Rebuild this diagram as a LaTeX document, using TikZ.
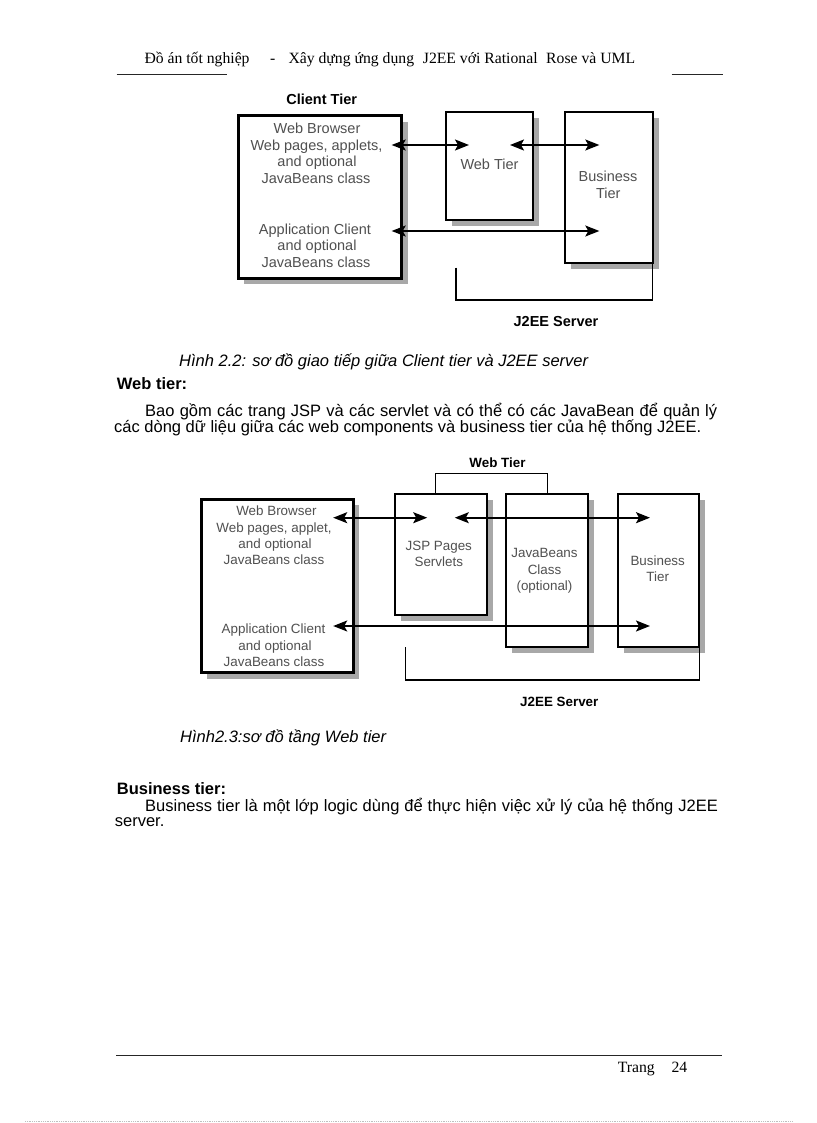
\documentclass[tikz,border=0pt]{standalone}
\usepackage{fontspec}
\setmainfont{Liberation Serif}
\newfontfamily\arialf{Liberation Sans}
\usetikzlibrary{arrows.meta,shadows}
\definecolor{dgray}{HTML}{505050}
\definecolor{shgray}{HTML}{A8A8A8}
\begin{document}
\begin{tikzpicture}[x=1pt,y=-1pt,
  hdr/.style={anchor=base west, inner sep=0, font=\fontsize{15.7}{18}\selectfont},
  bodyt/.style={anchor=base west, inner sep=0, font=\arialf\fontsize{16.5}{18}\selectfont},
  headt/.style={anchor=base west, inner sep=0, font=\arialf\bfseries\fontsize{16.5}{18}\selectfont},
  capt/.style={anchor=base west, inner sep=0, font=\arialf\itshape\fontsize{16.5}{18}\selectfont},
  dtxa/.style={anchor=base, inner sep=0, text=dgray, font=\arialf\fontsize{14.5}{16}\selectfont},
  dtxb/.style={anchor=base, inner sep=0, text=dgray, font=\arialf\fontsize{13.4}{16}\selectfont},
  dlbla/.style={anchor=base, inner sep=0, font=\arialf\bfseries\fontsize{14.5}{16}\selectfont},
  dlblb/.style={anchor=base, inner sep=0, font=\arialf\bfseries\fontsize{13.4}{16}\selectfont},
  boxa/.style={draw, fill=white, line width=2pt, outer sep=0, inner sep=0, anchor=north west,
     drop shadow={shadow xshift=6pt, shadow yshift=-6pt, fill=shgray, opacity=1}},
  boxthick/.style={boxa, line width=3pt},
  conn/.style={line width=1.6pt, {Stealth[length=14pt,width=11pt,inset=3pt]}-{Stealth[length=14pt,width=11pt,inset=3pt]}},
  brk/.style={line width=1.5pt},
  rulel/.style={line width=1.2pt, black!85}
]
\useasboundingbox (0,0) rectangle (816,1123);
\fill[white] (0,0) rectangle (816,1123);

% header
\node[hdr] (h1) at (144.3,63.3) {Đồ án tốt nghiệp};
\node[hdr] (h2) at (270,63.3) {-};
\node[hdr] (h3) at (288.3,63.3) {Xây dựng ứng dụng};
\node[hdr] (h4) at (422.7,63.3) {J2EE với Rational};
\node[hdr] (h5) at (546,63.3) {Rose và UML};
\draw[rulel] (116.7,74.5) -- (226.7,74.5);
\draw[rulel] (671.7,74.5) -- (722.7,74.5);

% ---------- Figure 1 ----------
\node[boxthick, minimum width=163.4pt, minimum height=162.3pt] (cl1) at (238.3,116) {};
\node[boxa, minimum width=87.3pt, minimum height=108.3pt] (web1) at (446,111.7) {};
\node[boxa, minimum width=87.7pt, minimum height=151.6pt] (bus1) at (565,111.7) {};

\node[dlbla] (ct1) at (321.7,105) {Client Tier};
\node[dtxa] (c1a) at (317,133.5) {Web Browser};
\node[dtxa] (c1b) at (316.5,150.3) {Web pages, applets,};
\node[dtxa] (c1c) at (317,167) {and optional};
\node[dtxa] (c1d) at (316,183.3) {JavaBeans class};
\node[dtxa] (c1e) at (315,234.3) {Application Client};
\node[dtxa] (c1f) at (317,250.5) {and optional};
\node[dtxa] (c1g) at (316,267.3) {JavaBeans class};
\node[dtxa] (w1t) at (489.5,169.3) {Web Tier};
\node[dtxa] (b1a) at (608,181.7) {Business};
\node[dtxa] (b1b) at (608.3,198.3) {Tier};

\coordinate (a1l) at (391.7,145);
\coordinate (a1r) at (469,145);
\coordinate (a2l) at (510,145);
\coordinate (a2r) at (599.3,145);
\coordinate (a3l) at (391.7,231);
\coordinate (a3r) at (599.3,231);
\draw[conn] (a1l) -- (a1r);
\draw[conn] (a2l) -- (a2r);
\draw[conn] (a3l) -- (a3r);

\coordinate (j1s) at (456,267.7);
\coordinate (j1c) at (456,300);
\draw[brk] (j1s) -- (j1c) -| (bus1.south east);
\node[dlbla] (j1t) at (556,326.5) {J2EE Server};

% caption 1 and text
\node[capt] (cap1) at (179,366) {Hình 2.2: sơ đồ giao tiếp giữa Client tier và J2EE server};
\node[headt] (wt) at (116.7,389) {Web tier:};
\node[bodyt] (p1a) at (145,416.7) {\makebox[572pt][s]{Bao gồm các trang JSP và các servlet và có thể có các JavaBean để quản lý}};
\node[bodyt] (p1b) at (114,432.7) {các dòng dữ liệu giữa các web components và business tier của hệ thống J2EE.};

% ---------- Figure 2 ----------
\node[boxthick, minimum width=151.8pt, minimum height=173.4pt] (cl2) at (201.4,499.3) {};
\node[boxa, minimum width=91.3pt, minimum height=120.7pt] (jsp2) at (395.2,494.3) {};
\node[boxa, minimum width=81.6pt, minimum height=152.4pt] (bean2) at (506.4,494.3) {};
\node[boxa, minimum width=81.3pt, minimum height=152.4pt] (bus2) at (618,494.3) {};

\coordinate (wt1) at (435.5,494.3);
\coordinate (wt2) at (547.4,473.3);
\draw[brk] (wt1) |- (wt2) -- (wt2 |- bean2.north);
\node[dlblb] (wtl) at (497.5,467.3) {Web Tier};

\node[dtxb] (c2a) at (276.4,515.8) {Web Browser};
\node[dtxb] (c2b) at (274,532) {Web pages, applet,};
\node[dtxb] (c2c) at (275,548.5) {and optional};
\node[dtxb] (c2d) at (274,564.5) {JavaBeans class};
\node[dtxb] (c2e) at (273.5,633.3) {Application Client};
\node[dtxb] (c2f) at (275,650) {and optional};
\node[dtxb] (c2g) at (274,666.6) {JavaBeans class};
\node[dtxb] (s2a) at (438.8,550.6) {JSP Pages};
\node[dtxb] (s2b) at (438.8,566) {Servlets};
\node[dtxb] (j2a) at (544.5,557.2) {JavaBeans};
\node[dtxb] (j2b) at (544.5,574) {Class};
\node[dtxb] (j2c) at (544.5,590.5) {(optional)};
\node[dtxb] (b2a) at (657.7,565) {Business};
\node[dtxb] (b2b) at (657.7,581.6) {Tier};

\coordinate (d1l) at (333.2,517.7);
\coordinate (d1r) at (427.2,517.7);
\coordinate (d2l) at (454.8,517.7);
\coordinate (d2r) at (650,517.7);
\coordinate (d3l) at (333.2,626);
\coordinate (d3r) at (650,626);
\draw[conn] (d1l) -- (d1r);
\draw[conn] (d2l) -- (d2r);
\draw[conn] (d3l) -- (d3r);

\coordinate (j2s) at (405.5,647.3);
\coordinate (j2c) at (405.5,680);
\draw[brk] (j2s) -- (j2c) -| (bus2.south east);
\node[dlblb] (j2t) at (559.3,706.7) {J2EE Server};

% caption 2 and text
\node[capt] (cap2) at (180,742.7) {Hình2.3:sơ đồ tầng Web tier};
\node[headt] (bt) at (116.7,794) {Business tier:};
\node[bodyt] (p2a) at (145,811) {\makebox[572.7pt][s]{Business tier là một lớp logic dùng để thực hiện việc xử lý của hệ thống J2EE}};
\node[bodyt] (p2b) at (114.7,826.5) {server.};

% footer
\draw[line width=1.4pt, black!85] (116,1055.7) -- (722,1055.7);
\node[hdr] (f1) at (617.6,1072) {Trang};
\node[hdr] (f2) at (671.4,1072) {24};
\draw[gray!50, densely dotted, line width=0.8pt] (25,1121) -- (792,1121);
\end{tikzpicture}
\end{document}
